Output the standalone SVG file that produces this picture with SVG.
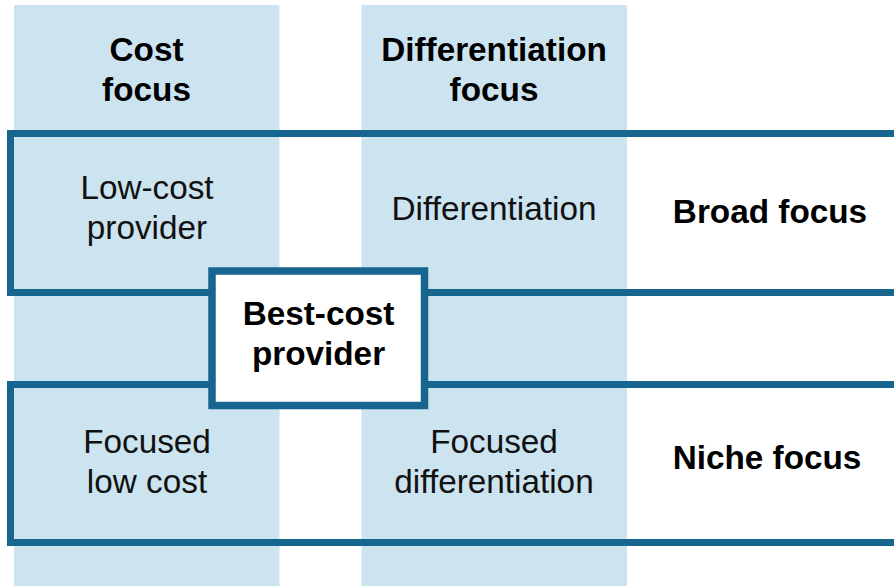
<svg xmlns="http://www.w3.org/2000/svg" width="894" height="586" viewBox="0 0 894 586">
<style>
.col{fill:#cce3f0}
.band{fill:none;stroke:#17668f;stroke-width:7}
.box{fill:#ffffff;stroke:#17668f;stroke-width:7.5}
text{font-family:"Liberation Sans",Arial,sans-serif;font-size:33.3px;text-anchor:middle;fill:#111111}
.b{font-weight:bold;fill:#000000}
</style>
<rect width="894" height="586" fill="#ffffff"/>
<g id="col-cost">
<rect class="col" x="14" y="5" width="265.5" height="581"/>
<text class="b" x="146.5" y="61">Cost</text>
<text class="b" x="146.5" y="101">focus</text>
</g>
<g id="col-diff">
<rect class="col" x="361.5" y="5" width="265.5" height="581"/>
<text class="b" x="494" y="61">Differentiation</text>
<text class="b" x="494" y="101">focus</text>
</g>
<g id="connectors">
<path class="band" d="M900,133.5 H10.5 V292.5 H900"/>
<path class="band" d="M900,384.5 H10.5 V542.5 H900"/>
</g>
<g id="broad">
<text class="b" x="770" y="223">Broad focus</text>
</g>
<g id="niche">
<text class="b" x="767" y="469">Niche focus</text>
</g>
<g id="low-cost">
<text x="147" y="199">Low-cost</text>
<text x="147" y="239">provider</text>
</g>
<g id="differentiation">
<text x="494" y="220">Differentiation</text>
</g>
<g id="focused-low-cost">
<text x="147" y="453">Focused</text>
<text x="147" y="493">low cost</text>
</g>
<g id="focused-diff">
<text x="494" y="453">Focused</text>
<text x="494" y="493">differentiation</text>
</g>
<g id="best-cost">
<rect class="box" x="212" y="271" width="212.5" height="134.5"/>
<text class="b" x="318.5" y="325">Best-cost</text>
<text class="b" x="318.5" y="365">provider</text>
</g>
</svg>
